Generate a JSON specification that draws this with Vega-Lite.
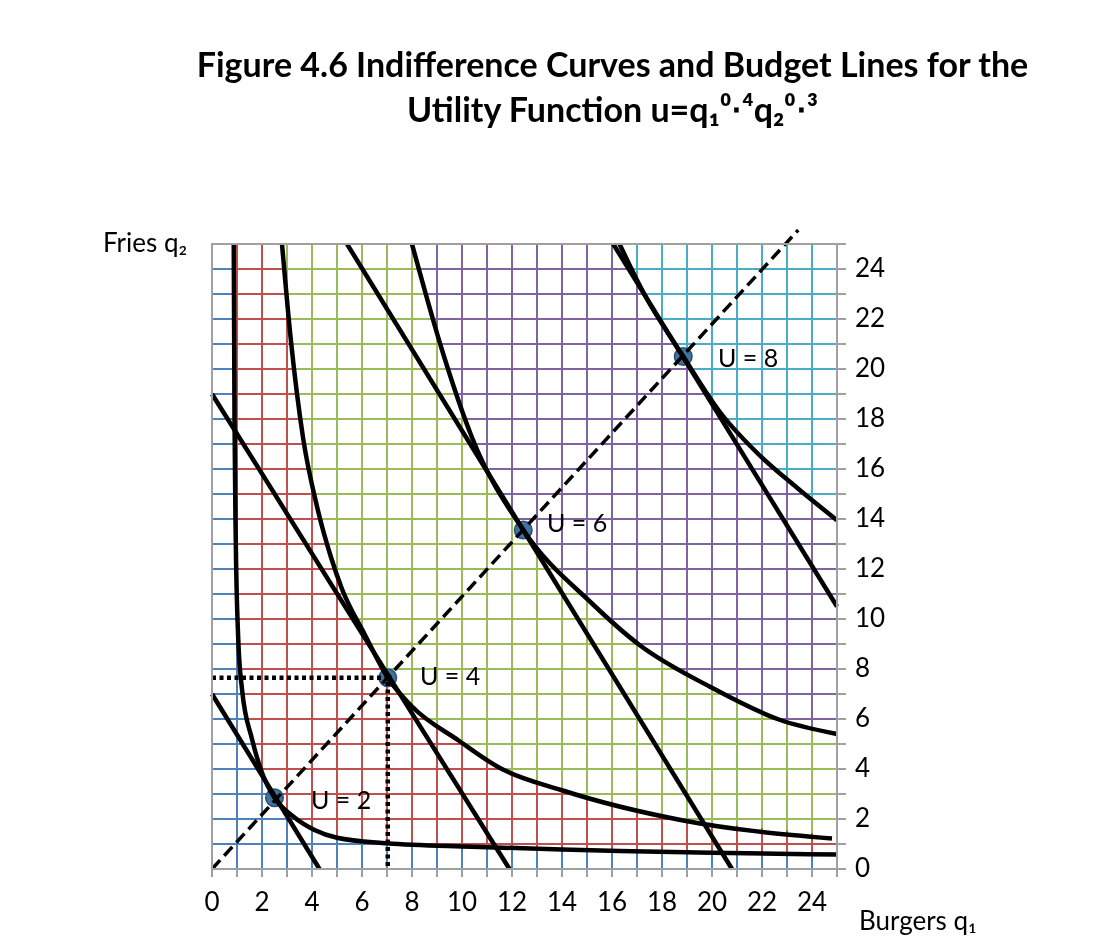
{
  "$schema": "https://vega.github.io/schema/vega-lite/v6.json",
  "width": 625,
  "height": 625,
  "autosize": {"type": "none"},
  "padding": {"left": 212, "top": 244, "right": 262, "bottom": 73},
  "background": "white",
  "title": {
    "text": ["Figure 4.6 Indifference Curves and Budget Lines for the", "Utility Function u=q₁⁰⋅⁴q₂⁰⋅³"],
    "font": "Lato", "fontSize": 34, "fontWeight": "bold", "color": "black",
    "anchor": "middle", "dx": 88, "offset": 94, "lineHeight": 45
  },
  "datasets": {
    "regions": [
      {"region": "blue", "i": 0, "q1": 0, "q2": 0},
      {"region": "blue", "i": 1, "q1": 0, "q2": 25},
      {"region": "blue", "i": 2, "q1": 0.87, "q2": 25},
      {"region": "blue", "i": 3, "q1": 0.9, "q2": 18},
      {"region": "blue", "i": 4, "q1": 0.95, "q2": 13.2},
      {"region": "blue", "i": 5, "q1": 1.05, "q2": 9.2},
      {"region": "blue", "i": 6, "q1": 1.2, "q2": 7.2},
      {"region": "blue", "i": 7, "q1": 1.6, "q2": 5.2},
      {"region": "blue", "i": 8, "q1": 2.0, "q2": 3.85},
      {"region": "blue", "i": 9, "q1": 2.5, "q2": 2.85},
      {"region": "blue", "i": 10, "q1": 3.25, "q2": 2.1},
      {"region": "blue", "i": 11, "q1": 4.1, "q2": 1.56},
      {"region": "blue", "i": 12, "q1": 5.0, "q2": 1.25},
      {"region": "blue", "i": 13, "q1": 7.0, "q2": 1.03},
      {"region": "blue", "i": 14, "q1": 10.4, "q2": 0.89},
      {"region": "blue", "i": 15, "q1": 14, "q2": 0.78},
      {"region": "blue", "i": 16, "q1": 16.3, "q2": 0.72},
      {"region": "blue", "i": 17, "q1": 20, "q2": 0.65},
      {"region": "blue", "i": 18, "q1": 25, "q2": 0.58},
      {"region": "blue", "i": 19, "q1": 25, "q2": 0},
      {"region": "red", "i": 0, "q1": 2.8, "q2": 25},
      {"region": "red", "i": 1, "q1": 3.15, "q2": 21.2},
      {"region": "red", "i": 2, "q1": 3.65, "q2": 17.2},
      {"region": "red", "i": 3, "q1": 4.2, "q2": 14.5},
      {"region": "red", "i": 4, "q1": 4.75, "q2": 12.5},
      {"region": "red", "i": 5, "q1": 5.2, "q2": 11.2},
      {"region": "red", "i": 6, "q1": 6.1, "q2": 9.4},
      {"region": "red", "i": 7, "q1": 7.03, "q2": 7.65},
      {"region": "red", "i": 8, "q1": 8.0, "q2": 6.5},
      {"region": "red", "i": 9, "q1": 9.85, "q2": 5.15},
      {"region": "red", "i": 10, "q1": 11.5, "q2": 4.05},
      {"region": "red", "i": 11, "q1": 14, "q2": 3.15},
      {"region": "red", "i": 12, "q1": 18.8, "q2": 1.95},
      {"region": "red", "i": 13, "q1": 24.8, "q2": 1.35},
      {"region": "red", "i": 14, "q1": 25, "q2": 1.35},
      {"region": "red", "i": 15, "q1": 25, "q2": 0.58},
      {"region": "red", "i": 16, "q1": 20, "q2": 0.65},
      {"region": "red", "i": 17, "q1": 16.3, "q2": 0.72},
      {"region": "red", "i": 18, "q1": 14, "q2": 0.78},
      {"region": "red", "i": 19, "q1": 10.4, "q2": 0.89},
      {"region": "red", "i": 20, "q1": 7.0, "q2": 1.03},
      {"region": "red", "i": 21, "q1": 5.0, "q2": 1.25},
      {"region": "red", "i": 22, "q1": 4.1, "q2": 1.56},
      {"region": "red", "i": 23, "q1": 3.25, "q2": 2.1},
      {"region": "red", "i": 24, "q1": 2.5, "q2": 2.85},
      {"region": "red", "i": 25, "q1": 2.0, "q2": 3.85},
      {"region": "red", "i": 26, "q1": 1.6, "q2": 5.2},
      {"region": "red", "i": 27, "q1": 1.2, "q2": 7.2},
      {"region": "red", "i": 28, "q1": 1.05, "q2": 9.2},
      {"region": "red", "i": 29, "q1": 0.95, "q2": 13.2},
      {"region": "red", "i": 30, "q1": 0.9, "q2": 18},
      {"region": "red", "i": 31, "q1": 0.87, "q2": 25},
      {"region": "green", "i": 0, "q1": 8, "q2": 25},
      {"region": "green", "i": 1, "q1": 9.25, "q2": 20.6},
      {"region": "green", "i": 2, "q1": 10.4, "q2": 17.26},
      {"region": "green", "i": 3, "q1": 12.45, "q2": 13.56},
      {"region": "green", "i": 4, "q1": 15.2, "q2": 10.62},
      {"region": "green", "i": 5, "q1": 17.1, "q2": 8.96},
      {"region": "green", "i": 6, "q1": 19.9, "q2": 7.3},
      {"region": "green", "i": 7, "q1": 22.7, "q2": 5.97},
      {"region": "green", "i": 8, "q1": 25, "q2": 5.4},
      {"region": "green", "i": 9, "q1": 25, "q2": 1.35},
      {"region": "green", "i": 10, "q1": 24.8, "q2": 1.35},
      {"region": "green", "i": 11, "q1": 18.8, "q2": 1.95},
      {"region": "green", "i": 12, "q1": 14, "q2": 3.15},
      {"region": "green", "i": 13, "q1": 11.5, "q2": 4.05},
      {"region": "green", "i": 14, "q1": 9.85, "q2": 5.15},
      {"region": "green", "i": 15, "q1": 8.0, "q2": 6.5},
      {"region": "green", "i": 16, "q1": 7.03, "q2": 7.65},
      {"region": "green", "i": 17, "q1": 6.1, "q2": 9.4},
      {"region": "green", "i": 18, "q1": 5.2, "q2": 11.2},
      {"region": "green", "i": 19, "q1": 4.75, "q2": 12.5},
      {"region": "green", "i": 20, "q1": 4.2, "q2": 14.5},
      {"region": "green", "i": 21, "q1": 3.65, "q2": 17.2},
      {"region": "green", "i": 22, "q1": 3.15, "q2": 21.2},
      {"region": "green", "i": 23, "q1": 2.8, "q2": 25},
      {"region": "purple", "i": 0, "q1": 16.3, "q2": 25},
      {"region": "purple", "i": 1, "q1": 17.25, "q2": 23.07},
      {"region": "purple", "i": 2, "q1": 18.85, "q2": 20.5},
      {"region": "purple", "i": 3, "q1": 20.3, "q2": 18.3},
      {"region": "purple", "i": 4, "q1": 21.9, "q2": 16.55},
      {"region": "purple", "i": 5, "q1": 23.4, "q2": 15.25},
      {"region": "purple", "i": 6, "q1": 25, "q2": 13.95},
      {"region": "purple", "i": 7, "q1": 25, "q2": 5.4},
      {"region": "purple", "i": 8, "q1": 22.7, "q2": 5.97},
      {"region": "purple", "i": 9, "q1": 19.9, "q2": 7.3},
      {"region": "purple", "i": 10, "q1": 17.1, "q2": 8.96},
      {"region": "purple", "i": 11, "q1": 15.2, "q2": 10.62},
      {"region": "purple", "i": 12, "q1": 12.45, "q2": 13.56},
      {"region": "purple", "i": 13, "q1": 10.4, "q2": 17.26},
      {"region": "purple", "i": 14, "q1": 9.25, "q2": 20.6},
      {"region": "purple", "i": 15, "q1": 8, "q2": 25},
      {"region": "cyan", "i": 0, "q1": 16.3, "q2": 25},
      {"region": "cyan", "i": 1, "q1": 25, "q2": 25},
      {"region": "cyan", "i": 2, "q1": 25, "q2": 13.95},
      {"region": "cyan", "i": 3, "q1": 23.4, "q2": 15.25},
      {"region": "cyan", "i": 4, "q1": 21.9, "q2": 16.55},
      {"region": "cyan", "i": 5, "q1": 20.3, "q2": 18.3},
      {"region": "cyan", "i": 6, "q1": 18.85, "q2": 20.5},
      {"region": "cyan", "i": 7, "q1": 17.25, "q2": 23.07}
    ],
    "curves": [
      {"c": "U2", "i": 0, "q1": 0.87, "q2": 25},
      {"c": "U2", "i": 1, "q1": 0.9, "q2": 18},
      {"c": "U2", "i": 2, "q1": 0.95, "q2": 13.2},
      {"c": "U2", "i": 3, "q1": 1.05, "q2": 9.2},
      {"c": "U2", "i": 4, "q1": 1.2, "q2": 7.2},
      {"c": "U2", "i": 5, "q1": 1.6, "q2": 5.2},
      {"c": "U2", "i": 6, "q1": 2.0, "q2": 3.85},
      {"c": "U2", "i": 7, "q1": 2.5, "q2": 2.85},
      {"c": "U2", "i": 8, "q1": 3.25, "q2": 2.1},
      {"c": "U2", "i": 9, "q1": 4.1, "q2": 1.56},
      {"c": "U2", "i": 10, "q1": 5.0, "q2": 1.25},
      {"c": "U2", "i": 11, "q1": 7.0, "q2": 1.03},
      {"c": "U2", "i": 12, "q1": 10.4, "q2": 0.89},
      {"c": "U2", "i": 13, "q1": 14, "q2": 0.78},
      {"c": "U2", "i": 14, "q1": 16.3, "q2": 0.72},
      {"c": "U2", "i": 15, "q1": 20, "q2": 0.65},
      {"c": "U2", "i": 16, "q1": 25, "q2": 0.58},
      {"c": "U4", "i": 0, "q1": 2.8, "q2": 25},
      {"c": "U4", "i": 1, "q1": 3.15, "q2": 21.2},
      {"c": "U4", "i": 2, "q1": 3.65, "q2": 17.2},
      {"c": "U4", "i": 3, "q1": 4.2, "q2": 14.5},
      {"c": "U4", "i": 4, "q1": 4.75, "q2": 12.5},
      {"c": "U4", "i": 5, "q1": 5.2, "q2": 11.2},
      {"c": "U4", "i": 6, "q1": 6.1, "q2": 9.4},
      {"c": "U4", "i": 7, "q1": 7.03, "q2": 7.65},
      {"c": "U4", "i": 8, "q1": 8.0, "q2": 6.5},
      {"c": "U4", "i": 9, "q1": 9.85, "q2": 5.15},
      {"c": "U4", "i": 10, "q1": 11.5, "q2": 4.05},
      {"c": "U4", "i": 11, "q1": 14, "q2": 3.15},
      {"c": "U4", "i": 12, "q1": 18.8, "q2": 1.95},
      {"c": "U4", "i": 13, "q1": 24.8, "q2": 1.22},
      {"c": "U6", "i": 0, "q1": 8, "q2": 25},
      {"c": "U6", "i": 1, "q1": 9.25, "q2": 20.6},
      {"c": "U6", "i": 2, "q1": 10.4, "q2": 17.26},
      {"c": "U6", "i": 3, "q1": 12.45, "q2": 13.56},
      {"c": "U6", "i": 4, "q1": 15.2, "q2": 10.62},
      {"c": "U6", "i": 5, "q1": 17.1, "q2": 8.96},
      {"c": "U6", "i": 6, "q1": 19.9, "q2": 7.3},
      {"c": "U6", "i": 7, "q1": 22.7, "q2": 5.97},
      {"c": "U6", "i": 8, "q1": 25, "q2": 5.4},
      {"c": "U8", "i": 0, "q1": 16.3, "q2": 25},
      {"c": "U8", "i": 1, "q1": 17.25, "q2": 23.07},
      {"c": "U8", "i": 2, "q1": 18.85, "q2": 20.5},
      {"c": "U8", "i": 3, "q1": 20.3, "q2": 18.3},
      {"c": "U8", "i": 4, "q1": 21.9, "q2": 16.55},
      {"c": "U8", "i": 5, "q1": 23.4, "q2": 15.25},
      {"c": "U8", "i": 6, "q1": 25, "q2": 13.95}
    ],
    "budgets": [
      {"c": "B2", "i": 0, "q1": 0, "q2": 7.0},
      {"c": "B2", "i": 1, "q1": 4.3, "q2": 0},
      {"c": "B4", "i": 0, "q1": 0, "q2": 19},
      {"c": "B4", "i": 1, "q1": 11.9, "q2": 0},
      {"c": "B6", "i": 0, "q1": 5.4, "q2": 25},
      {"c": "B6", "i": 1, "q1": 20.8, "q2": 0},
      {"c": "B8", "i": 0, "q1": 16.05, "q2": 25},
      {"c": "B8", "i": 1, "q1": 25, "q2": 10.5}
    ],
    "ray": [
      {"i": 0, "q1": 0, "q2": 0},
      {"i": 1, "q1": 23.45, "q2": 25.56}
    ],
    "guide": [
      {"i": 0, "q1": 0, "q2": 7.65},
      {"i": 1, "q1": 7.03, "q2": 7.65},
      {"i": 2, "q1": 7.03, "q2": 0}
    ],
    "optima": [
      {"q1": 2.5, "q2": 2.85, "label": "U = 2", "lx": 3.96, "ly": 2.72},
      {"q1": 7.03, "q2": 7.65, "label": "U = 4", "lx": 8.32, "ly": 7.7},
      {"q1": 12.45, "q2": 13.56, "label": "U = 6", "lx": 13.4, "ly": 13.82},
      {"q1": 18.85, "q2": 20.5, "label": "U = 8", "lx": 20.24, "ly": 20.42}
    ]
  },
  "layer": [
    {
      "data": {"name": "regions"},
      "mark": {"type": "line", "blend": "screen", "strokeWidth": 0, "interpolate": "linear-closed"},
      "encoding": {
        "x": {
          "field": "q1", "type": "quantitative",
          "scale": {"domain": [0, 25], "nice": false, "zero": false},
          "axis": {
            "orient": "bottom",
            "values": [0,1,2,3,4,5,6,7,8,9,10,11,12,13,14,15,16,17,18,19,20,21,22,23,24,25],
            "tickCount": 40, "format": "d",
            "labelExpr": "datum.value % 2 == 0 && datum.value < 25 ? datum.label : ''",
            "labelOverlap": false, "labelFlush": false,
            "grid": true, "gridColor": "black", "gridWidth": 2,
            "domain": false, "ticks": true, "tickColor": "#a0a0a0", "tickWidth": 2, "tickSize": 8,
            "labelFont": "Lato", "labelFontSize": 26, "labelColor": "black", "labelPadding": 13,
            "title": "Burgers q₁", "titleFont": "Lato", "titleFontSize": 26, "titleFontWeight": "normal",
            "titleColor": "black", "titleX": 647, "titleY": 61, "titleAlign": "left",
            "titleBaseline": "alphabetic", "titleAngle": 0, "translate": 0
          }
        },
        "y": {
          "field": "q2", "type": "quantitative",
          "scale": {"domain": [0, 25], "nice": false, "zero": false},
          "axis": {
            "orient": "right",
            "values": [0,1,2,3,4,5,6,7,8,9,10,11,12,13,14,15,16,17,18,19,20,21,22,23,24,25],
            "tickCount": 40, "format": "d",
            "labelExpr": "datum.value % 2 == 0 && datum.value < 25 ? datum.label : ''",
            "labelOverlap": false, "labelFlush": false,
            "grid": true, "gridColor": "black", "gridWidth": 2,
            "domain": false, "ticks": true, "tickColor": "#a0a0a0", "tickWidth": 2, "tickSize": 9,
            "labelFont": "Lato", "labelFontSize": 26, "labelColor": "black", "labelPadding": 9,
            "title": "Fries q₂", "titleFont": "Lato", "titleFontSize": 26, "titleFontWeight": "normal",
            "titleColor": "black", "titleX": -734, "titleY": 8, "titleAlign": "left",
            "titleBaseline": "alphabetic", "titleAngle": 0, "translate": 0
          }
        },
        "order": {"field": "i", "type": "quantitative"},
        "fill": {
          "field": "region", "type": "nominal", "legend": null,
          "scale": {"domain": ["blue", "red", "green", "purple", "cyan"], "range": ["#4f81bd", "#c0504d", "#9bbb59", "#8064a2", "#4bacc6"]}
        }
      }
    },
    {
      "data": {"name": "optima"},
      "mark": {"type": "point", "shape": "circle", "filled": true, "size": 310, "fill": "#41719c", "stroke": "#2c4f78", "strokeWidth": 1.5, "opacity": 1},
      "encoding": {
        "x": {"field": "q1", "type": "quantitative"},
        "y": {"field": "q2", "type": "quantitative"}
      }
    },
    {
      "data": {"name": "curves"},
      "mark": {"type": "line", "color": "black", "strokeWidth": 4.5, "strokeJoin": "round", "strokeCap": "butt", "interpolate": "monotone"},
      "encoding": {
        "x": {"field": "q1", "type": "quantitative"},
        "y": {"field": "q2", "type": "quantitative"},
        "detail": {"field": "c", "type": "nominal"},
        "order": {"field": "i", "type": "quantitative"}
      }
    },
    {
      "data": {"name": "budgets"},
      "mark": {"type": "line", "color": "black", "strokeWidth": 4.5, "strokeCap": "butt"},
      "encoding": {
        "x": {"field": "q1", "type": "quantitative"},
        "y": {"field": "q2", "type": "quantitative"},
        "detail": {"field": "c", "type": "nominal"},
        "order": {"field": "i", "type": "quantitative"}
      }
    },
    {
      "data": {"name": "ray"},
      "mark": {"type": "line", "color": "black", "strokeWidth": 3.5, "strokeDash": [12, 6], "clip": false},
      "encoding": {
        "x": {"field": "q1", "type": "quantitative"},
        "y": {"field": "q2", "type": "quantitative"},
        "order": {"field": "i", "type": "quantitative"}
      }
    },
    {
      "data": {"name": "guide"},
      "mark": {"type": "line", "color": "black", "strokeWidth": 4.5, "strokeDash": [4, 3.5], "strokeCap": "butt"},
      "encoding": {
        "x": {"field": "q1", "type": "quantitative"},
        "y": {"field": "q2", "type": "quantitative"},
        "order": {"field": "i", "type": "quantitative"}
      }
    },
    {
      "data": {"name": "optima"},
      "mark": {"type": "text", "align": "left", "baseline": "middle", "font": "Lato", "fontSize": 25, "color": "black"},
      "encoding": {
        "x": {"field": "lx", "type": "quantitative"},
        "y": {"field": "ly", "type": "quantitative"},
        "text": {"field": "label", "type": "nominal"}
      }
    }
  ],
  "config": {
    "view": {"fill": "white", "stroke": "#a0a0a0", "strokeWidth": 2},
    "style": {"cell": {"strokeForeground": true}}
  }
}
